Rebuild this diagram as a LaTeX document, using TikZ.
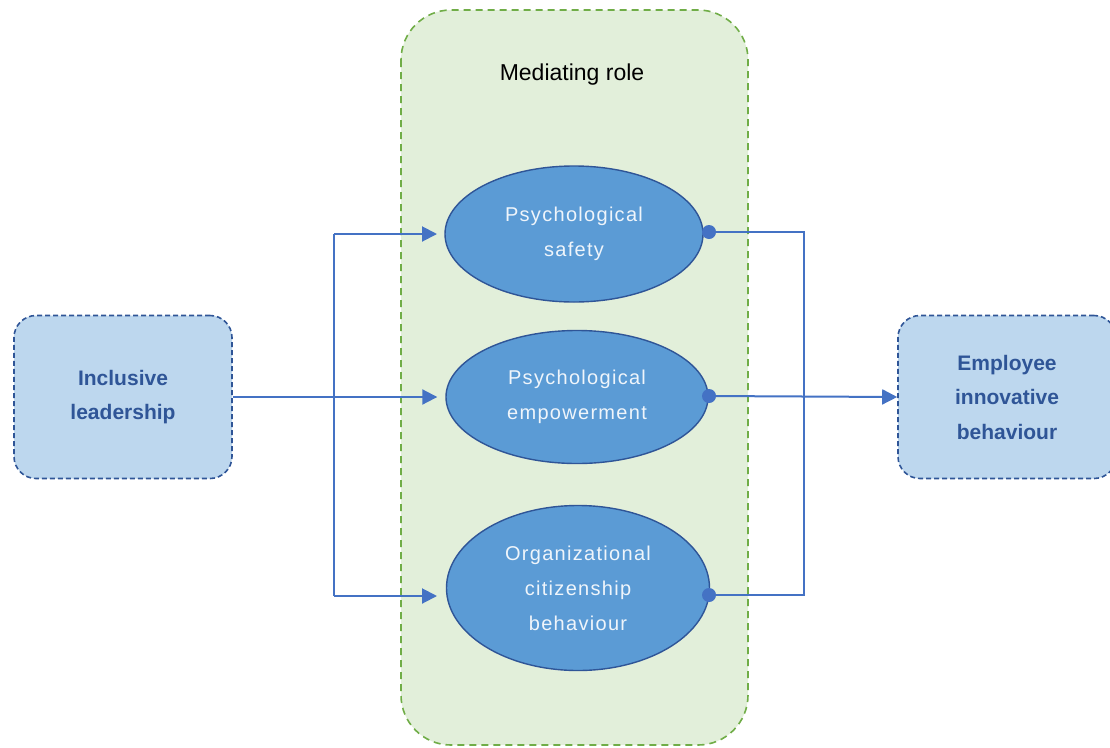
\documentclass[tikz,border=0pt]{standalone}
\usepackage{fontspec}
\setmainfont{Liberation Sans}
\newfontfamily\ellfont[LetterSpace=6.5]{Liberation Sans}
\usetikzlibrary{arrows.meta,shapes.geometric,calc}
\definecolor{boxfill}{HTML}{BDD7EE}
\definecolor{boxline}{HTML}{2F5597}
\definecolor{grnfill}{HTML}{E2EFDA}
\definecolor{grnline}{HTML}{70AD47}
\definecolor{ellfill}{HTML}{5B9BD5}
\definecolor{conn}{HTML}{4472C4}
\tikzset{
  outerbox/.style={draw=boxline, fill=boxfill, line width=1.6pt, rounded corners=22pt,
    minimum width=218pt, minimum height=163pt, align=center, text=boxline,
    font=\fontsize{21}{34.5}\selectfont\bfseries, dash pattern=on 5pt off 3pt},
  medbox/.style={draw=grnline, fill=grnfill, line width=1.6pt, dash pattern=on 7pt off 5pt, rounded corners=50pt},
  ell/.style={ellipse, draw=boxline, fill=ellfill, line width=1.4pt, align=center,
    text=white!90!ellfill, font=\ellfont\fontsize{20}{35}\selectfont, inner sep=0pt},
  link/.style={draw=conn, line width=2pt},
  arr/.style={link, -{Triangle[length=15pt,width=15pt]}},
  dot/.style={circle, fill=conn, inner sep=0pt, minimum size=14pt}
}
\begin{document}
\begin{tikzpicture}[x=1pt,y=-1pt]
\useasboundingbox (0,0) rectangle (1110,747);
\path[medbox] (401,10) rectangle (748,745);
\node[font=\fontsize{23}{26}\selectfont, text=black] (title) at (572,75) {Mediating role};
\node[outerbox] (L) at (123,397) {Inclusive\\leadership};
\begin{scope}
\clip (0,0) rectangle (1110,747);
\node[outerbox] (R) at (1007,397) {Employee\\innovative\\behaviour};
\end{scope}
\node[ell, minimum width=258pt, minimum height=136pt] (e1) at (574,234) {Psychological\\safety};
\node[ell, minimum width=262pt, minimum height=133pt] (e2) at (577,397) {Psychological\\empowerment};
\node[ell, minimum width=263pt, minimum height=165pt] (e3) at (578,588) {Organizational\\citizenship\\behaviour};
% left connectors
\coordinate (b1) at (334,234);
\coordinate (b3) at (334,596);
\draw[link] (b1) -- (b3);
\draw[arr, shorten >=8pt] (L.east) -- (e2.west);
\draw[arr] (b1) -- (437,234);
\draw[arr] (b3) -- (437,596);
% right connectors
\node[dot] (d1) at (709,232) {};
\node[dot] (d2) at (709,396) {};
\node[dot] (d3) at (709,595) {};
\coordinate (c1) at (804,232);
\coordinate (c3) at (804,595);
\draw[link] (d1.center) -- (c1) -- (c3) -- (d3.center);
\draw[arr] (d2.center) -- (R.west);
\end{tikzpicture}
\end{document}
